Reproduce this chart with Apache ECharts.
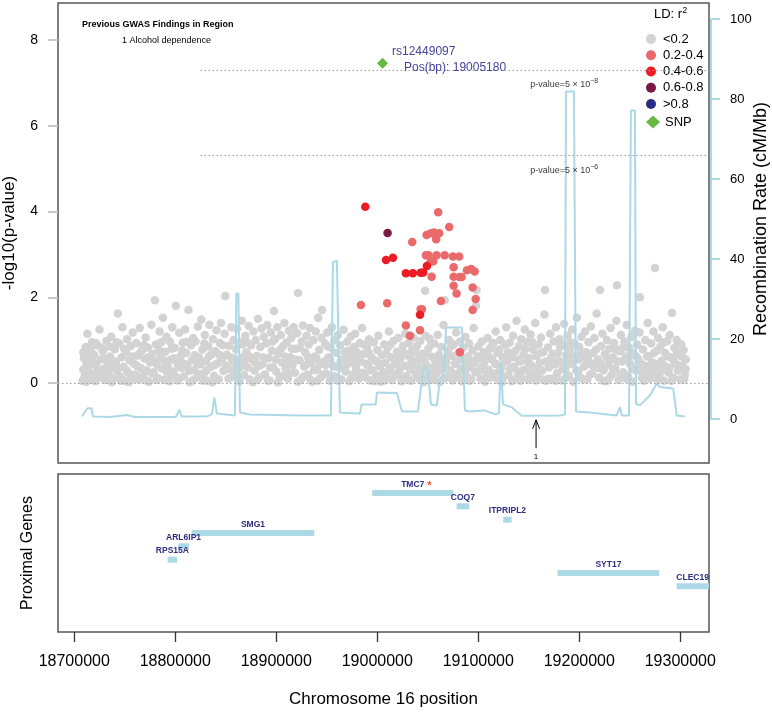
<!DOCTYPE html>
<html><head><meta charset="utf-8">
<script src="https://cdn.jsdelivr.net/npm/echarts@6/dist/echarts.min.js"></script>
<style>html,body{margin:0;padding:0;background:#fff}#c{width:772px;height:715px}</style>
</head><body><div id="c"></div>
<script>
// ---------------- DATA ----------------
// x axis ticks (kb); label = kb*1000
const xTicksKb = [18700, 18800, 18900, 19000, 19100, 19200, 19300];
const logpTicks = [0, 2, 4, 6, 8];
const recombTicks = [0, 20, 40, 60, 80, 100];

// LD < 0.2 (grey) : [position kb, -log10 p]
const ldLt02 = [
[18708.2,0.05],[18708.9,0.31],[18709.6,0.58],[18710.4,0.16],[18711.3,0.84],[18712.1,0.44],[18713.0,1.15],[18713.8,0.27],[18714.7,0.69],[18715.9,0.09],[18716.8,0.51],[18717.6,0.95],
[18718.5,0.22],[18719.7,0.66],[18720.6,0.04],[18721.8,0.41],[18722.9,0.88],[18724.1,0.18],[18725.0,1.25],[18726.2,0.55],[18727.3,0.12],
[18728.4,0.74],[18729.5,0.33],[18730.7,0.07],[18731.9,0.98],[18733.0,0.47],[18734.2,0.21],[18735.5,0.62],[18736.6,1.08],[18737.8,0.36],
[18738.9,0.10],[18740.1,0.79],[18741.3,0.50],[18742.4,0.28],[18743.2,1.62],[18744.6,0.92],[18745.8,0.14],[18746.9,0.60],[18747.7,1.30],
[18748.8,0.38],[18750.0,0.05],[18751.1,0.71],[18752.3,1.02],[18753.4,0.24],[18754.6,0.53],[18755.8,0.86],[18756.9,0.12],[18757.9,1.18],
[18759.0,0.45],[18760.2,0.20],[18761.4,0.93],[18762.5,0.64],[18763.7,0.08],[18764.8,1.28],[18765.9,0.35],[18767.1,0.77],
[18768.3,0.16],[18769.4,0.57],[18770.6,1.06],[18771.7,0.29],[18772.9,0.83],[18774.0,0.03],[18775.2,0.48],[18776.4,1.36],[18777.5,0.68],
[18778.6,0.25],[18779.8,1.93],[18780.9,0.90],[18782.1,0.42],[18783.2,0.11],[18784.4,1.20],[18785.5,0.60],[18786.7,0.34],[18787.8,1.52],
[18788.9,0.07],[18790.1,0.73],[18791.2,1.08],[18792.4,0.39],[18793.5,0.19],[18794.7,0.96],[18795.8,0.55],[18797.0,1.30],
[18798.2,0.27],[18799.3,0.82],[18800.5,1.80],[18801.6,0.48],[18802.8,0.06],[18803.9,1.17],[18805.1,0.62],[18806.2,0.35],[18807.4,0.94],
[18808.5,0.15],[18809.7,1.25],[18810.8,0.70],[18812.0,0.41],[18813.1,1.70],[18814.3,0.02],[18815.4,0.88],[18816.6,0.53],[18817.7,1.05],
[18818.9,0.30],[18820.0,0.97],[18821.2,0.13],[18822.3,1.32],[18823.5,0.60],[18824.6,0.43],[18825.8,1.48],[18826.9,0.78],
[18828.1,0.22],[18829.2,1.12],[18830.4,0.51],[18831.5,0.05],[18832.7,0.85],[18833.8,1.36],[18835.0,0.38],[18836.1,0.67],[18837.3,1.02],
[18838.4,0.17],[18839.6,0.74],[18840.7,1.23],[18841.9,0.46],[18843.0,0.09],[18844.2,0.93],[18845.3,1.40],[18846.5,0.57],[18847.6,0.28],
[18848.8,1.15],[18849.5,2.03],[18850.9,0.66],[18852.1,0.33],[18853.2,0.87],[18854.4,0.12],[18855.5,1.30],[18856.7,0.50],[18857.8,1.00],
[18858.9,0.23],[18860.1,0.79],[18861.2,1.26],[18862.4,0.41],[18863.5,0.04],[18864.7,0.95],[18865.8,1.45],[18867.0,0.60],
[18868.1,0.18],[18869.3,1.10],[18870.4,0.72],[18871.6,0.36],[18872.7,1.33],[18873.9,0.08],[18875.0,0.88],[18876.2,0.55],[18877.3,1.20],
[18878.5,0.29],[18879.6,1.00],[18880.8,0.63],[18881.9,1.50],[18883.1,0.13],[18884.2,0.84],[18885.4,1.27],[18886.5,0.45],[18887.7,1.08],
[18888.8,0.20],[18890.0,0.92],[18891.1,1.35],[18892.3,0.58],[18893.4,0.06],[18894.6,1.18],[18895.7,0.75],[18896.9,0.37],[18897.7,1.68],
[18898.8,1.02],[18900.0,0.27],[18901.1,1.30],[18902.3,0.69],[18903.4,0.14],[18904.6,1.12],[18905.7,0.48],[18906.9,0.86],
[18908.0,1.40],[18909.2,0.33],[18910.3,0.95],[18911.5,0.10],[18912.6,1.22],[18913.8,0.60],[18914.9,1.05],[18916.1,0.42],[18917.2,1.30],
[18918.4,0.24],[18919.5,0.80],[18920.7,1.16],[18921.6,2.10],[18923.0,0.53],[18924.1,0.07],[18925.3,0.97],[18926.4,1.34],[18927.6,0.38],
[18928.7,0.71],[18929.9,1.10],[18931.0,0.19],[18932.2,0.90],[18933.3,1.28],[18934.5,0.46],[18935.6,0.03],[18936.8,1.00],[18937.9,0.62],
[18939.0,1.20],[18940.2,0.31],[18941.5,1.52],[18942.5,0.77],[18943.6,0.12],[18944.8,1.05],[18945.3,1.70],[18947.1,0.50],
[18948.2,0.92],[18949.4,0.22],[18950.5,1.18],[18951.7,0.60],[18952.8,0.05],[18954.0,0.83],[18955.1,1.30],[18956.3,0.40],[18957.4,0.99],
[18958.6,0.15],[18959.7,0.70],[18960.9,1.12],[18962.0,0.36],[18963.2,0.88],[18964.3,0.09],[18965.5,0.55],[18966.6,1.24],[18967.8,0.73],
[18968.9,0.27],[18970.1,0.96],[18971.2,0.45],[18972.4,0.04],[18973.5,1.08],[18974.7,0.62],[18975.8,0.20],[18977.0,0.84],
[18978.1,1.15],[18979.3,0.33],[18980.4,0.71],[18981.6,0.10],[18982.7,0.93],[18983.9,0.50],[18985.0,1.28],[18986.2,0.24],[18987.3,0.68],
[18988.5,0.13],[18989.6,0.85],[18990.8,0.41],[18991.9,1.02],[18993.1,0.06],[18994.2,0.60],[18995.4,0.30],[18996.5,0.95],[18997.7,0.52],
[18998.8,0.18],[19000.0,0.77],[19001.1,1.10],[19002.3,0.39],[19003.4,0.03],[19004.6,0.66],[19005.7,0.25],[19006.9,0.90],
[19008.0,0.47],[19009.2,0.10],[19010.3,0.82],[19011.5,1.20],[19012.6,0.34],[19013.8,0.60],[19014.9,0.07],[19016.1,0.98],[19017.2,0.44],
[19018.4,0.20],[19019.5,0.73],[19020.7,1.05],[19021.8,0.28],[19023.0,0.58],[19024.1,0.04],[19025.3,0.87],[19026.4,0.40],[19027.6,1.15],
[19028.7,0.16],[19029.9,0.64],[19031.0,0.93],[19032.2,0.32],[19033.3,0.05],[19034.5,0.77],[19035.6,1.06],[19036.8,0.48],[19037.9,0.22],
[19039.1,0.86],[19040.2,0.11],[19041.4,0.55],[19042.5,0.98],[19043.7,0.30],[19044.8,0.68],[19046.0,0.02],[19047.4,2.15],[19047.9,1.10],
[19048.3,0.42],[19049.5,0.14],[19050.6,0.80],[19051.8,1.03],[19052.9,0.35],[19054.1,0.61],[19055.2,0.08],[19056.4,0.92],[19057.5,0.50],
[19058.7,0.21],[19059.8,1.12],[19061.0,0.66],[19062.1,0.03],[19063.3,0.84],[19064.4,0.38],[19065.6,1.35],[19066.7,1.93],[19067.5,0.57],
[19068.9,0.12],[19070.1,0.74],[19071.2,1.00],[19072.4,0.29],[19073.5,0.63],[19074.7,0.06],[19075.8,0.90],[19077.0,0.45],
[19078.1,1.18],[19079.3,0.20],[19080.4,0.70],[19081.6,0.96],[19082.7,0.33],[19083.9,0.04],[19085.0,0.82],[19086.2,0.52],[19087.3,1.07],
[19088.5,0.17],[19089.6,0.62],[19090.8,0.92],[19091.9,0.37],[19093.1,0.08],[19094.2,0.76],[19095.4,1.28],[19096.5,0.46],[19097.7,1.80],[19098.3,2.17],
[19099.0,0.25],[19100.0,0.85],[19101.1,0.58],[19102.3,0.10],[19103.4,0.97],[19104.6,0.40],[19105.7,0.72],[19106.9,0.03],
[19108.0,0.64],[19109.2,1.05],[19110.3,0.31],[19111.5,0.80],[19112.6,0.13],[19113.8,0.55],[19114.9,0.93],[19116.1,0.22],[19117.2,1.20],
[19118.4,0.44],[19119.5,0.07],[19120.7,0.78],[19121.8,1.00],[19123.0,0.35],[19124.1,0.60],[19125.3,0.15],[19126.4,0.89],[19127.6,1.30],
[19128.7,0.50],[19129.9,0.19],[19131.0,0.94],[19132.2,0.62],[19133.3,0.04],[19134.5,1.10],[19135.6,0.38],[19136.8,0.75],[19137.9,1.45],
[19139.1,0.26],[19140.2,0.86],[19141.4,0.50],[19142.5,1.02],[19143.7,0.11],[19144.8,0.67],[19146.0,1.25],[19147.1,0.32],
[19148.3,0.95],[19149.4,0.08],[19150.6,0.58],[19151.7,1.13],[19152.9,0.40],[19154.0,0.78],[19155.2,0.20],[19156.3,1.40],[19157.5,0.63],
[19158.6,0.14],[19159.8,0.90],[19160.9,0.47],[19162.1,1.06],[19163.2,0.29],[19164.4,0.72],[19165.5,1.60],[19166.1,2.17],[19167.2,0.05],
[19168.9,0.83],[19170.0,0.36],[19171.2,1.15],[19172.3,0.60],[19173.5,0.10],[19174.6,0.97],[19175.8,0.43],[19176.9,1.30],
[19178.1,0.23],[19179.2,0.70],[19180.4,1.02],[19181.5,0.50],[19182.7,0.06],[19183.8,0.88],[19185.0,1.38],[19186.1,0.32],[19187.3,0.65],
[19188.4,1.10],[19189.6,0.17],[19190.7,0.79],[19191.9,0.45],[19193.0,1.25],[19194.2,0.03],[19195.3,0.92],[19196.5,0.57],[19197.6,1.52],
[19198.8,0.27],[19199.9,0.84],[19201.1,0.12],[19202.2,1.08],[19203.4,0.60],[19204.5,0.38],[19205.7,1.20],[19206.8,0.72],
[19208.0,0.09],[19209.1,0.95],[19210.3,0.48],[19211.4,1.32],[19212.6,0.22],[19213.7,0.70],[19214.9,1.05],[19216.0,0.40],[19217.2,1.62],
[19218.3,0.55],[19219.5,0.13],[19220.5,2.17],[19221.8,0.86],[19222.9,1.15],[19224.1,0.30],[19225.2,0.67],[19226.4,0.04],[19227.5,1.00],
[19228.7,0.42],[19229.8,0.80],[19231.0,1.28],[19232.1,0.19],[19233.3,0.60],[19234.4,0.93],[19235.6,0.35],[19236.7,1.45],[19237.3,2.28],
[19238.9,0.07],[19240.1,0.74],[19241.2,1.12],[19242.4,0.50],[19243.5,0.25],[19244.7,0.97],[19245.8,0.62],[19247.0,1.35],
[19248.1,0.16],[19249.3,0.83],[19250.4,0.44],[19251.6,1.07],[19252.7,0.03],[19253.9,0.68],[19255.0,1.22],[19256.2,0.30],[19257.3,0.90],
[19258.5,0.56],[19259.6,1.18],[19260.0,2.00],[19261.9,0.12],[19263.1,0.78],[19264.2,0.40],[19265.4,1.00],[19266.5,0.22],[19267.7,1.40],
[19268.8,0.63],[19270.0,0.10],[19271.1,0.92],[19272.3,0.48],[19273.4,1.20],[19274.9,2.68],[19275.7,0.33],[19276.9,0.75],
[19278.0,1.05],[19279.2,0.18],[19280.3,0.85],[19281.5,0.52],[19282.6,1.30],[19283.8,0.05],[19284.9,0.70],[19286.1,0.38],[19287.2,0.98],
[19288.4,0.24],[19289.5,1.12],[19290.7,0.60],[19291.8,1.63],[19293.0,0.12],[19294.1,0.82],[19295.3,0.45],[19296.4,1.00],[19297.6,0.29],
[19298.7,0.66],[19299.9,0.08],[19301.0,0.90],[19302.2,0.40],[19303.3,0.77],[19304.5,0.20],[19305.6,0.55]
];
// more LD < 0.2 points in the dense low band
const ldLt02Band = [
[18709.0,0.72],[18711.9,0.03],[18714.2,0.38],[18716.3,0.77],[18719.1,0.48],[18721.2,0.93],[18723.5,0.30],[18726.8,0.82],
[18729.0,0.57],[18731.3,0.25],[18734.8,0.85],[18737.2,0.02],[18739.5,0.45],[18741.9,0.95],[18744.0,0.35],[18746.3,0.05],
[18749.4,0.80],[18751.7,0.30],[18754.0,0.02],[18757.3,0.62],[18759.6,0.10],[18761.9,0.40],[18764.2,0.68],[18766.5,0.15],
[18768.9,0.88],[18771.1,0.06],[18773.5,0.60],[18776.9,0.22],[18779.2,0.50],[18781.5,0.07],[18783.8,0.77],[18786.1,0.95],
[18789.5,0.52],[18791.8,0.25],[18794.1,0.04],[18796.4,0.80],[18798.8,0.58],[18801.0,0.14],[18803.3,0.40],[18806.8,0.76],
[18809.1,0.45],[18811.4,0.96],[18813.7,0.28],[18817.1,0.06],[18819.4,0.65],[18821.7,0.45],[18824.0,0.20],[18827.4,0.05],
[18828.7,0.92],[18830.9,0.30],[18833.2,0.62],[18836.7,0.02],[18839.0,0.42],[18841.3,0.08],[18843.6,0.66],[18847.0,0.88],
[18849.9,0.40],[18852.6,0.10],[18854.9,0.60],[18857.2,0.30],[18859.5,0.55],[18861.8,0.15],[18864.1,0.36],[18866.4,0.90],
[18868.7,0.50],[18871.0,0.95],[18873.3,0.62],[18876.8,0.02],[18879.0,0.48],[18881.3,0.07],[18883.7,0.40],[18887.1,0.60],
[18889.4,0.58],[18891.7,0.05],[18894.0,0.36],[18896.3,0.97],[18899.4,0.55],[18901.7,0.02],[18904.0,0.78],[18906.3,0.16],
[18908.6,0.62],[18910.9,0.45],[18913.2,0.22],[18915.5,0.80],[18918.9,0.55],[18921.2,0.03],[18923.6,0.82],[18926.9,0.15],
[18929.3,0.42],[18931.6,0.60],[18933.9,0.08],[18937.3,0.30],[18939.6,0.58],[18941.0,0.05],[18943.0,0.45],[18946.5,0.20],
[18948.8,0.42],[18951.1,0.85],[18953.4,0.55],[18956.9,0.15],[18959.1,0.38],[18961.4,0.05],[18963.8,0.50],[18967.2,0.32],
[18969.5,0.62],[18971.8,0.75],[18974.1,0.10],[18976.4,0.50],[18978.7,0.40],[18981.0,0.58],[18983.3,0.20],[18986.8,0.90],
[18989.0,0.45],[18991.3,0.72],[18993.7,0.30],[18997.1,0.04],[18999.4,0.50],[19001.7,0.12],[19004.0,0.45],[19006.3,0.05],
[19008.6,0.68],[19010.9,0.28],[19013.2,0.90],[19016.6,0.20],[19018.9,0.46],[19021.2,0.62],[19023.5,0.12],[19026.9,0.70],
[19029.3,0.40],[19031.6,0.08],[19033.9,0.55],[19037.3,0.72],[19039.6,0.40],[19041.9,0.20],[19044.2,0.06],[19046.6,0.52],
[19048.9,0.70],[19051.2,0.22],[19053.5,0.90],[19056.9,0.28],[19059.2,0.45],[19061.6,0.30],[19063.9,0.55],[19066.1,0.10],
[19068.4,0.48],[19070.7,0.30],[19073.0,0.86],[19076.4,0.20],[19078.7,0.50],[19081.0,0.12],[19083.3,0.60],[19086.8,0.28],
[19089.0,0.40],[19091.3,0.05],[19093.6,0.52],[19097.1,0.25],[19099.5,0.62],[19101.7,0.30],[19104.0,0.08],[19106.3,0.50],
[19108.6,0.22],[19110.9,0.60],[19113.2,0.86],[19116.7,0.45],[19118.9,0.70],[19121.2,0.28],[19123.5,0.02],[19126.9,0.50],
[19129.3,0.72],[19131.6,0.33],[19133.9,0.60],[19137.3,0.10],[19139.6,0.55],[19141.9,0.05],[19144.2,0.30],[19146.6,0.80],
[19148.9,0.50],[19151.2,0.22],[19153.5,0.95],[19156.9,0.06],[19159.2,0.35],[19161.5,0.70],[19163.8,0.08],[19166.7,0.50],
[19169.4,0.10],[19171.7,0.45],[19174.0,0.68],[19176.3,0.05],[19178.7,0.50],[19181.0,0.85],[19183.3,0.32],[19186.7,0.12],
[19189.0,0.50],[19191.3,0.95],[19193.6,0.62],[19197.0,0.30],[19199.3,0.55],[19201.6,0.70],[19204.0,0.08],[19206.3,0.42],
[19208.6,0.60],[19210.9,0.20],[19213.2,0.40],[19216.6,0.78],[19218.9,0.35],[19221.2,0.45],[19223.5,0.05],[19226.9,0.60],
[19229.3,0.10],[19231.6,0.55],[19233.9,0.30],[19236.2,0.78],[19238.3,0.50],[19240.7,0.20],[19243.0,0.82],[19246.4,0.10],
[19248.7,0.55],[19250.9,0.72],[19253.3,0.32],[19256.7,0.62],[19259.0,0.30],[19261.3,0.45],[19263.7,0.05],[19267.1,0.62],
[19269.4,0.40],[19271.7,0.22],[19274.0,0.70],[19277.4,0.08],[19279.7,0.46],[19282.0,0.30],[19284.3,0.95],[19287.8,0.62],
[19289.0,0.35],[19291.3,0.05],[19293.6,0.52],[19296.9,0.72],[19299.3,0.40],[19301.6,0.62],[19303.9,0.08],[19305.2,0.32]
];

// LD 0.2-0.4
const ld02to04 = [
[19060.3,3.98],[19071.2,3.64],[19048.8,3.45],[19053.1,3.49],[19056.1,3.51],[19061.3,3.49],[19058.3,3.35],[19034.6,3.29],
[19048.1,2.98],[19050.8,2.98],[19058.7,2.98],[19066.7,2.98],[19074.9,2.95],[19081.1,2.95],[19055.4,2.84],[19052.8,2.83],
[19075.6,2.70],[19088.8,2.63],[19093.0,2.66],[19096.4,2.60],[19053.8,2.48],[19075.6,2.48],[19081.5,2.47],[19083.5,2.47],
[19075.6,2.27],[19094.4,2.23],[19078.5,2.09],[19097.4,1.96],[18983.8,1.82],[19009.8,1.86],[19063.0,1.91],[19044.2,1.72],
[19042.9,1.72],[19094.4,1.70],[19028.3,1.34],[19032.3,1.10],[19042.3,1.23],[19081.8,0.72]
];
// LD 0.4-0.6
const ld04to06 = [
[18988.1,4.11],[19008.6,2.87],[19015.5,2.92],[19049.1,2.73],[19028.3,2.56],[19035.2,2.56],[19042.9,2.57],[19045.5,2.58],[19042.3,1.59]
];
// LD 0.6-0.8
const ld06to08 = [[19010.2,3.50]];
// LD > 0.8
const ldGt08 = [];

// index SNP
const snpName = 'rs12449097';
const snpPosBp = 19005180;
const snpLogP = 7.46;

// recombination rate: [position kb, cM/Mb]
const recomb = [
[18707.9,0.65],[18710.4,1.8],[18713.5,2.7],[18716.9,2.7],[18718.6,0.65],[18735.0,0.5],[18752.1,1.0],[18760.0,0.5],
[18800.6,0.5],[18804.1,2.3],[18806.3,0.65],[18831.3,0.65],[18836.3,1.2],[18838.7,5.4],[18841.2,1.4],[18859.0,0.9],
[18860.5,31.4],[18862.5,31.4],[18864.0,1.65],[18873.9,1.15],[18923.4,0.9],[18954.1,0.9],[18956.1,39.2],[18960.0,39.6],
[18961.0,26.6],[18963.0,1.65],[18982.8,1.4],[18984.5,3.65],[18998.6,3.65],[18999.6,6.65],[19019.4,6.5],[19024.4,1.9],
[19040.2,1.9],[19045.2,11.6],[19047.6,13.1],[19050.1,12.1],[19053.1,3.65],[19058.9,3.4],[19062.0,9.65],[19066.0,11.6],
[19068.0,22.9],[19083.8,22.9],[19086.8,2.15],[19091.7,1.9],[19106.2,2.15],[19116.9,1.15],[19120.4,1.4],[19122.4,14.2],
[19124.4,3.65],[19133.3,2.9],[19142.9,0.8],[19180.8,0.9],[19185.8,1.15],[19186.8,81.9],[19194.7,81.9],[19196.7,1.9],
[19210.6,1.65],[19237.0,0.9],[19240.3,3.0],[19242.0,0.9],[19249.2,0.9],[19251.1,77.1],[19255.1,77.1],[19256.1,3.8],
[19260.0,3.4],[19269.9,5.9],[19276.6,8.8],[19279.8,8.0],[19293.0,7.6],[19296.4,0.9],[19304.6,0.65]
];

// genome-wide / suggestive thresholds (p-values)
const pThresholds = [5e-8, 5e-6];
const pThresholdLabels = ['\u22128', '\u22126'];

// previous GWAS findings
const gwasIndex = ['1'];
const gwasTrait = ['Alcohol dependence'];
const gwasPosKb = [19157.2];

// genes
const geneNames = ['TMC7', 'COQ7', 'ITPRIPL2', 'SMG1', 'ARL6IP1', 'RPS15A', 'SYT17', 'CLEC19A'];
const geneStart = [18995.0, 19078.5, 19124.7, 18816.2, 18802.9, 18792.4, 19178.5, 19296.4];
const geneEnd   = [19075.2, 19091.0, 19133.0, 18937.6, 18813.5, 18801.9, 19279.1, 19334.0];
const geneRow   = [1, 2, 3, 4, 5, 6, 7, 8];
const geneStarred = ['TMC7'];

// ---------------- LAYOUT / STYLE ----------------
const FONT = '"Liberation Sans", Arial, Helvetica, sans-serif';
const X_MIN = 18683.9, X_MAX = 19328.4;
const Y_MIN = -1.866, Y_MAX = 8.863;
const THR_START = 18825;
const C = {grey:'#d3d3d3', lr:'#ea6a6c', red:'#ec1c24', mar:'#7b1743', navy:'#282c82', snp:'#68b944', rr:'#add8e6', gene:'#add8e6', geneTxt:'#2e2e80', snpTxt:'#45459a'};
const PT = 8.5;

const measureCtx = document.createElement('canvas').getContext('2d');
function textW(t, font){ measureCtx.font = font; return measureCtx.measureText(t).width; }

const hiddenAxis = {axisLine:{show:false}, axisTick:{show:false}, axisLabel:{show:false}, splitLine:{show:false}};
function hx(grid, extra){ return Object.assign({type:'value', gridIndex:grid, min:X_MIN, max:X_MAX}, hiddenAxis, extra||{}); }
const ptStyle = c => ({color:c, opacity:1, borderWidth:0});

const option = {
  animation:false,
  backgroundColor:'#fff',
  textStyle:{fontFamily:FONT},
  title:[
    {text:'Previous GWAS Findings in Region', left:82, top:20, padding:0,
     textStyle:{fontSize:9, fontWeight:'bold', color:'#000', fontFamily:FONT}},
    {text: gwasIndex.map((g,i)=>g+' '+gwasTrait[i]).join('\n'), left:122, top:36, padding:0,
     textStyle:{fontSize:9, fontWeight:'normal', color:'#000', fontFamily:FONT}},
    {text:'LD: r{s|2}', left:654, top:6, padding:0,
     textStyle:{fontSize:13, fontWeight:'normal', color:'#000', fontFamily:FONT,
       rich:{s:{fontSize:9, padding:[0,0,8,0], fontFamily:FONT, color:'#000'}}}}
  ],
  legend:[
    {orient:'vertical', left:641, top:27.5, itemWidth:14, itemHeight:10, itemGap:3.25, selectedMode:false,
     textStyle:{fontSize:13, lineHeight:13, color:'#000', fontFamily:FONT},
     data:[{name:'<0.2',icon:'circle'},{name:'0.2-0.4',icon:'circle'},{name:'0.4-0.6',icon:'circle'},{name:'0.6-0.8',icon:'circle'},{name:'>0.8',icon:'circle'}]},
    {orient:'vertical', left:641, top:110.5, itemWidth:14, itemHeight:13, selectedMode:false,
     textStyle:{fontSize:13, lineHeight:13, color:'#000', fontFamily:FONT},
     data:[{name:'SNP',icon:'diamond'}]}
  ],
  grid:[
    {left:58, top:3, width:651, height:460, show:true, borderColor:'#555', borderWidth:1.5, backgroundColor:'transparent', containLabel:false, outerBoundsMode:'none'},
    {left:58, top:474, width:651, height:158, show:true, borderColor:'#555', borderWidth:1.5, backgroundColor:'transparent', containLabel:false, outerBoundsMode:'none'},
    {left:58, top:19, width:651, height:400, containLabel:false, outerBoundsMode:'none'},
    {left:74.26, top:631, width:606.05, height:1, containLabel:false, outerBoundsMode:'none'},
    {left:58, top:40, width:651, height:343, containLabel:false, outerBoundsMode:'none'}
  ],
  xAxis:[
    hx(0),
    hx(1, {name:'Chromosome 16 position', nameLocation:'middle', nameGap:59, nameMoveOverlap:false,
           nameTextStyle:{fontSize:17, color:'#000', fontFamily:FONT}}),
    hx(2),
    {type:'value', gridIndex:3, position:'bottom', min:xTicksKb[0], max:xTicksKb[xTicksKb.length-1],
     interval:xTicksKb[1]-xTicksKb[0], axisLine:{show:false}, splitLine:{show:false},
     axisTick:{show:true, length:10, lineStyle:{color:'#333', width:1.3}},
     axisLabel:{show:true, interval:0, margin:22, fontSize:16, color:'#000', fontFamily:FONT,
       showMinLabel:true, showMaxLabel:true, formatter:v=>String(Math.round(v*1000))}},
    hx(4)
  ],
  yAxis:[
    {type:'value', gridIndex:0, min:Y_MIN, max:Y_MAX, ...hiddenAxis,
     name:'-log10(p-value)', nameLocation:'middle', nameGap:40, nameMoveOverlap:false,
     nameTextStyle:{fontSize:17, color:'#000', fontFamily:FONT}},
    {type:'value', gridIndex:1, min:-0.425, max:11.43, inverse:true, ...hiddenAxis,
     name:'Proximal Genes', nameLocation:'middle', nameGap:22, nameMoveOverlap:false,
     nameTextStyle:{fontSize:16, color:'#000', fontFamily:FONT}},
    {type:'value', gridIndex:2, position:'right', offset:2, min:recombTicks[0], max:recombTicks[recombTicks.length-1],
     interval:recombTicks[1]-recombTicks[0], splitLine:{show:false},
     axisLine:{show:true, lineStyle:{color:C.rr, width:2}},
     axisTick:{show:true, length:9, lineStyle:{color:C.rr, width:2}},
     axisLabel:{show:true, margin:19, fontSize:13, color:'#000', fontFamily:FONT},
     name:'Recombination Rate (cM/Mb)', nameLocation:'middle', nameGap:41, nameMoveOverlap:false,
     nameTextStyle:{fontSize:18, color:'#000', fontFamily:FONT}},
    {type:'value', gridIndex:3, min:0, max:1, ...hiddenAxis},
    {type:'value', gridIndex:4, position:'left', min:logpTicks[0], max:logpTicks[logpTicks.length-1],
     interval:logpTicks[1]-logpTicks[0], splitLine:{show:false}, axisLine:{show:false},
     axisTick:{show:true, length:10, lineStyle:{color:'#c8c8c8', width:2}},
     axisLabel:{show:true, margin:20, fontSize:14, color:'#000', fontFamily:FONT}}
  ],
  series:[
    {name:'<0.2', type:'scatter', xAxisIndex:0, yAxisIndex:0, data:ldLt02.concat(ldLt02Band), symbol:'circle', symbolSize:PT,
     itemStyle:ptStyle(C.grey), z:2, silent:true, large:false,
     markLine:{silent:true, symbol:['none','none'], label:{show:false}, animation:false,
       lineStyle:{color:'#9c9c9c', type:[1.5,2.5], width:1},
       data:[[{coord:[X_MIN,0]},{coord:[X_MAX,0]}]].concat(
         pThresholds.map(p=>[{coord:[THR_START,-Math.log10(p)]},{coord:[X_MAX,-Math.log10(p)]}]))}},
    {name:'recomb', type:'line', xAxisIndex:2, yAxisIndex:2, data:recomb, showSymbol:false, symbol:'none',
     lineStyle:{color:C.rr, width:2}, z:3, silent:true},
    {name:'0.2-0.4', type:'scatter', xAxisIndex:0, yAxisIndex:0, data:ld02to04, symbol:'circle', symbolSize:PT,
     itemStyle:ptStyle(C.lr), z:4, silent:true},
    {name:'0.4-0.6', type:'scatter', xAxisIndex:0, yAxisIndex:0, data:ld04to06, symbol:'circle', symbolSize:PT,
     itemStyle:ptStyle(C.red), z:4, silent:true},
    {name:'0.6-0.8', type:'scatter', xAxisIndex:0, yAxisIndex:0, data:ld06to08, symbol:'circle', symbolSize:PT,
     itemStyle:ptStyle(C.mar), z:4, silent:true},
    {name:'>0.8', type:'scatter', xAxisIndex:0, yAxisIndex:0, data:ldGt08, symbol:'circle', symbolSize:PT,
     itemStyle:ptStyle(C.navy), z:4, silent:true},
    {name:'SNP', type:'scatter', xAxisIndex:0, yAxisIndex:0, data:[[snpPosBp/1000, snpLogP]], symbol:'diamond', symbolSize:11,
     itemStyle:ptStyle(C.snp), z:5, silent:true,
     label:{show:true, position:'right', distance:4, offset:[0,-3],
       formatter:'{a|'+snpName+'}\n{b|Pos(bp): '+snpPosBp+'}',
       rich:{a:{fontSize:12, color:C.snpTxt, lineHeight:16, fontFamily:FONT},
             b:{fontSize:12, color:C.snpTxt, lineHeight:16, padding:[0,0,0,12], fontFamily:FONT}}}},
    {name:'thrLabels', type:'scatter', xAxisIndex:0, yAxisIndex:0, symbolSize:0, silent:true, z:5,
     data:pThresholds.map(p=>[19185, -Math.log10(p)]),
     label:{show:true, position:'inside', offset:[0,15],
       formatter:(pp)=>'{a|p-value=5 \u00d7 10}{s|'+pThresholdLabels[pp.dataIndex]+'}',
       rich:{a:{fontSize:9, color:'#000', fontFamily:FONT}, s:{fontSize:7, color:'#000', padding:[0,0,7,0], fontFamily:FONT}}}},
    {name:'gwas', type:'custom', xAxisIndex:0, yAxisIndex:0, silent:true, z:5,
     data:gwasPosKb.map((p,i)=>[p,i]),
     renderItem:function(params, api){
       const top = api.coord([api.value(0), -0.86]);
       const bot = api.coord([api.value(0), -1.52]);
       return {type:'group', children:[
         {type:'line', shape:{x1:bot[0], y1:bot[1], x2:top[0], y2:top[1]}, style:{stroke:'#000', lineWidth:1}},
         {type:'polyline', shape:{points:[[top[0]-3.5, top[1]+9],[top[0], top[1]],[top[0]+3.5, top[1]+9]]}, style:{stroke:'#000', fill:null, lineWidth:1}},
         {type:'text', x:top[0], y:bot[1]+5, style:{text:gwasIndex[params.dataIndex], align:'center', verticalAlign:'top', fontSize:8, fontFamily:FONT, fill:'#000'}}
       ]};
     }},
    {name:'genes', type:'custom', xAxisIndex:1, yAxisIndex:1, silent:true, clip:true, z:3,
     encode:{x:[0,1], y:2},
     data:geneNames.map((n,i)=>[geneStart[i], geneEnd[i], geneRow[i]]),
     renderItem:function(params, api){
       const s = api.coord([api.value(0), api.value(2)]);
       const e = api.coord([api.value(1), api.value(2)]);
       const h = 6;
       const name = geneNames[params.dataIndex];
       const cx = (s[0]+e[0])/2;
       const font = 'bold 8.5px ' + FONT;
       const ch = [
         {type:'rect', shape:{x:s[0], y:s[1]-h/2, width:e[0]-s[0], height:h}, style:{fill:C.gene}},
         {type:'text', x:cx, y:s[1]-h/2-1, style:{text:name, align:'center', verticalAlign:'bottom', font:font, fill:C.geneTxt}}
       ];
       if (geneStarred.indexOf(name) >= 0) {
         ch.push({type:'text', x:cx + textW(name, font)/2 + 3, y:s[1]-h/2+1, style:{text:'*', align:'left', verticalAlign:'bottom', font:'bold 11px '+FONT, fill:'#f0502a'}});
       }
       return {type:'group', children:ch};
     }}
  ]
};

const chart = echarts.init(document.getElementById('c'), null, {renderer:'canvas', width:772, height:715});
chart.setOption(option);
</script>
</body></html>
